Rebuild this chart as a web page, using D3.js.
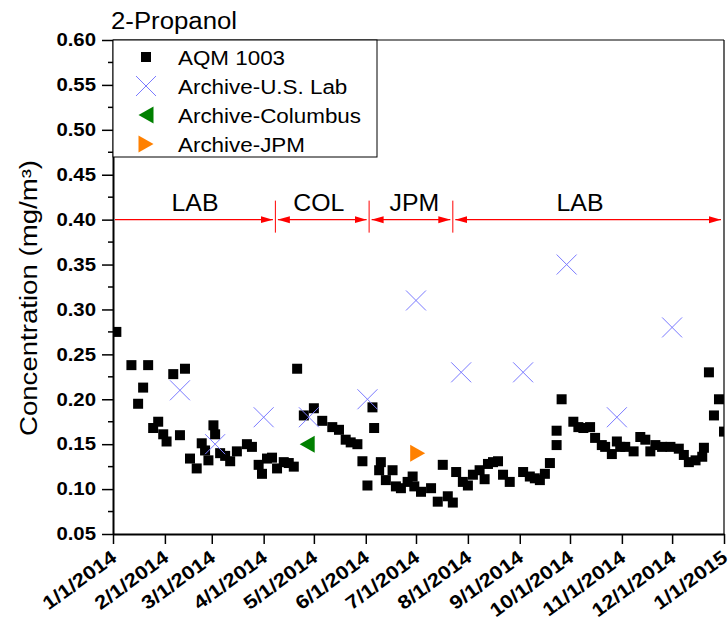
<!DOCTYPE html>
<html><head><meta charset="utf-8">
<script src="https://cdn.jsdelivr.net/npm/d3@7"></script>
<style>body{margin:0;background:#fff}svg{display:block;font-family:"Liberation Sans",Arial,sans-serif}</style>
</head><body><svg id="c" width="728" height="622"></svg>
<script>
// ---------- data ----------
const chartTitle = "2-Propanol";
const yTitle = "Concentration (mg/m\u00B3)";
const aqmDates = [
 "2014-01-03","2014-01-12","2014-01-16","2014-01-19","2014-01-22","2014-01-25","2014-01-28","2014-01-31",
 "2014-02-02","2014-02-06","2014-02-10","2014-02-13","2014-02-16","2014-02-20","2014-02-23","2014-02-25","2014-02-27",
 "2014-03-02","2014-03-03","2014-03-06","2014-03-09","2014-03-12","2014-03-16","2014-03-22","2014-03-25","2014-03-29","2014-03-31",
 "2014-04-03","2014-04-06","2014-04-09","2014-04-13","2014-04-16","2014-04-19","2014-04-21","2014-04-25",
 "2014-05-01","2014-05-06","2014-05-12","2014-05-16","2014-05-20","2014-05-23","2014-05-27","2014-05-30",
 "2014-06-02","2014-06-05","2014-06-06","2014-06-09","2014-06-10","2014-06-13","2014-06-17","2014-06-19","2014-06-22","2014-06-26","2014-06-29","2014-06-30",
 "2014-07-04","2014-07-10","2014-07-14","2014-07-17","2014-07-20","2014-07-23","2014-07-25","2014-07-29",
 "2014-08-01","2014-08-04","2014-08-08","2014-08-11","2014-08-13","2014-08-16","2014-08-19","2014-08-22","2014-08-26",
 "2014-09-03","2014-09-07","2014-09-10","2014-09-13","2014-09-16","2014-09-19","2014-09-23","2014-09-23","2014-09-26",
 "2014-10-03","2014-10-06","2014-10-09","2014-10-13","2014-10-16","2014-10-20","2014-10-22","2014-10-26","2014-10-29","2014-10-31",
 "2014-11-03","2014-11-08","2014-11-12","2014-11-15","2014-11-18","2014-11-21","2014-11-25","2014-11-30",
 "2014-12-05","2014-12-08","2014-12-11","2014-12-15","2014-12-19","2014-12-20","2014-12-23","2014-12-26","2014-12-29",
 "2015-01-01"];
const aqmValues = [
 0.275,0.238,0.195,0.213,0.238,0.168,0.175,0.161,
 0.153,0.228,0.160,0.234,0.134,0.123,0.151,0.143,0.132,
 0.171,0.161,0.140,0.137,0.131,0.142,0.150,0.147,0.127,0.117,
 0.134,0.135,0.123,0.130,0.129,0.125,0.234,0.182,
 0.190,0.176,0.169,0.166,0.155,0.152,0.150,0.131,
 0.104,0.191,0.168,0.121,0.130,0.110,0.121,0.103,0.101,0.108,0.114,0.103,
 0.097,0.101,0.086,0.127,0.092,0.085,0.119,0.108,
 0.104,0.116,0.121,0.111,0.128,0.130,0.131,0.116,0.108,
 0.119,0.114,0.112,0.110,0.117,0.129,0.149,0.165,0.200,
 0.175,0.169,0.168,0.169,0.157,0.149,0.147,0.139,0.153,0.147,
 0.147,0.142,0.158,0.155,0.142,0.149,0.147,0.147,
 0.145,0.138,0.130,0.132,0.136,0.146,0.230,0.182,0.200,
 0.164];
const labDates = ["2014-02-10","2014-03-03","2014-04-01","2014-04-28","2014-06-02","2014-07-01","2014-07-28","2014-09-03","2014-09-29","2014-10-29","2014-12-01"];
const labValues = [0.21,0.15,0.18,0.18,0.20,0.31,0.23,0.23,0.35,0.18,0.28];
const colDates = ["2014-04-27"];
const colValues = [0.15];
const jpmDates = ["2014-07-02"];
const jpmValues = [0.14];
const seriesNames = ["AQM 1003","Archive-U.S. Lab","Archive-Columbus","Archive-JPM"];
const yTicks = [0.05,0.10,0.15,0.20,0.25,0.30,0.35,0.40,0.45,0.50,0.55,0.60];
const xTickDates = ["2014-01-01","2014-02-01","2014-03-01","2014-04-01","2014-05-01","2014-06-01","2014-07-01","2014-08-01","2014-09-01","2014-10-01","2014-11-01","2014-12-01","2015-01-01"];
const xTickLabels = ["1/1/2014","2/1/2014","3/1/2014","4/1/2014","5/1/2014","6/1/2014","7/1/2014","8/1/2014","9/1/2014","10/1/2014","11/1/2014","12/1/2014","1/1/2015"];
const siteBounds = ["2014-01-01","2014-04-08","2014-06-03","2014-07-23","2015-01-01"];
const siteNames = ["LAB","COL","JPM","LAB"];
const siteLabelDates = ["2014-02-19","2014-05-04","2014-06-30","2014-10-07"];
const siteArrowValue = 0.40;

// ---------- drawing ----------
const parse = d3.timeParse("%Y-%m-%d");
const svg = d3.select("#c");
const L = 113, R = 724, T = 40, B = 534;
const x = d3.scaleTime().domain([parse("2014-01-01"), parse("2015-01-01")]).range([L, R]);
const y = d3.scaleLinear().domain([0.05, 0.60]).range([B, T]);

function stretch(sel, k){
  sel.each(function(){
    const w = this.getComputedTextLength();
    d3.select(this).attr("textLength", w*k).attr("lengthAdjust","spacingAndGlyphs");
  });
}

svg.append("defs").append("clipPath").attr("id","plotclip")
  .append("rect").attr("x",L).attr("y",T).attr("width",R-L).attr("height",B-T);

// title
svg.append("text").attr("x",111).attr("y",29).attr("font-size",23).text(chartTitle).call(stretch,1.12);

// frame top & right
svg.append("line").attr("x1",L).attr("x2",R).attr("y1",T).attr("y2",T).attr("stroke","#000").attr("stroke-width",1.2);
svg.append("line").attr("x1",R).attr("x2",R).attr("y1",T).attr("y2",B).attr("stroke","#000").attr("stroke-width",1.2);

// y axis
const yMinor = yTicks.slice(0,-1).map((d,i)=> (d+yTicks[i+1])/2);
const gy = svg.append("g").attr("transform",`translate(${L},0)`);
gy.call(d3.axisLeft(y).tickValues(yTicks).tickSize(11).tickSizeOuter(0).tickPadding(6).tickFormat(d3.format(".2f")));
gy.selectAll(".tick line").attr("stroke-width",1.5);
gy.select(".domain").attr("stroke-width",2);
gy.selectAll("text").attr("font-size",18).attr("font-weight","bold").attr("font-family",'"Liberation Sans",Arial,sans-serif').attr("fill","#000");
gy.selectAll("text").call(stretch,1.13);
gy.selectAll(".minor").data(yMinor).enter().append("line").attr("class","minor")
  .attr("x1",-5).attr("x2",0).attr("y1",d=>y(d)).attr("y2",d=>y(d)).attr("stroke","#000").attr("stroke-width",1.5);

// x axis
const xt = xTickDates.map(parse);
const gx = svg.append("g").attr("transform",`translate(0,${B})`);
gx.call(d3.axisBottom(x).tickValues(xt).tickSize(10).tickSizeOuter(0).tickFormat(""));
gx.selectAll(".tick line").attr("stroke-width",1.5);
gx.select(".domain").attr("stroke-width",2);
const xl = svg.append("g");
xl.selectAll("text").data(xt).enter().append("text")
  .attr("transform",d=>`translate(${x(d)+5},${B+26}) rotate(-36)`)
  .attr("text-anchor","end").attr("font-size",19).attr("font-weight","bold")
  .text((d,i)=>xTickLabels[i]).call(stretch,1.16);

// y title
svg.append("text").attr("transform","translate(37,298) rotate(-90)").attr("text-anchor","middle")
  .attr("font-size",23).text(yTitle).call(stretch,1.2);

// site annotations
const red = "#ff0000";
const defs = svg.select("defs");
defs.append("marker").attr("id","ah").attr("viewBox","0 -4 12 8").attr("refX",12).attr("refY",0)
  .attr("markerWidth",12).attr("markerHeight",8).attr("markerUnits","userSpaceOnUse").attr("orient","auto-start-reverse")
  .append("path").attr("d","M0,-3.5L12,0L0,3.5Z").attr("fill",red);
const ay = y(siteArrowValue);
const ann = svg.append("g");
siteBounds.slice(1,-1).forEach(d=>{
  ann.append("line").attr("x1",x(parse(d))).attr("x2",x(parse(d))).attr("y1",ay-19).attr("y2",ay+13)
    .attr("stroke",red).attr("stroke-width",1);
});
siteNames.forEach((name,i)=>{
  const x0 = x(parse(siteBounds[i])), x1 = x(parse(siteBounds[i+1]));
  const first = i===0;
  const ln = ann.append("line").attr("x1", first ? x0+2 : x0+2.5).attr("x2", i===siteNames.length-1 ? x1-3 : x1-2.5)
    .attr("y1",ay).attr("y2",ay).attr("stroke",red).attr("stroke-width",1.2).attr("marker-end","url(#ah)");
  if(!first) ln.attr("marker-start","url(#ah)");
  ann.append("text").attr("x",x(parse(siteLabelDates[i]))).attr("y",ay-9).attr("text-anchor","middle")
    .attr("font-size",23).text(name).call(stretch,1.08);
});

// data marks
const plot = svg.append("g").attr("clip-path","url(#plotclip)");
const aqm = aqmDates.map((d,i)=>({d:parse(d),v:aqmValues[i]}));
plot.selectAll("rect.aqm").data(aqm).enter().append("rect").attr("class","aqm")
  .attr("x",p=>x(p.d)-5).attr("y",p=>y(p.v)-5).attr("width",10).attr("height",10).attr("fill","#000");
const xPath = "M-10,-10L10,10M-10,10L10,-10";
const lab = labDates.map((d,i)=>({d:parse(d),v:labValues[i]}));
plot.selectAll("path.lab").data(lab).enter().append("path").attr("class","lab")
  .attr("transform",p=>`translate(${x(p.d)},${y(p.v)})`).attr("d",xPath)
  .attr("stroke","#7a7aff").attr("stroke-width",1).attr("fill","none");
const leftTri = "M-7.5,0L7.5,-8.5L7.5,8.5Z", rightTri = "M7.5,0L-7.5,-8.5L-7.5,8.5Z";
plot.selectAll("path.col").data(colDates.map((d,i)=>({d:parse(d),v:colValues[i]}))).enter().append("path")
  .attr("transform",p=>`translate(${x(p.d)},${y(p.v)})`).attr("d",leftTri).attr("fill","#008000");
plot.selectAll("path.jpm").data(jpmDates.map((d,i)=>({d:parse(d),v:jpmValues[i]}))).enter().append("path")
  .attr("transform",p=>`translate(${x(p.d)},${y(p.v)})`).attr("d",rightTri).attr("fill","#ff8000");

// legend
const lg = svg.append("g");
lg.append("rect").attr("x",L).attr("y",T).attr("width",264).attr("height",117).attr("fill","#fff").attr("stroke","#000").attr("stroke-width",1);
const rowY = [57,86,115,144];
lg.append("rect").attr("x",141).attr("y",rowY[0]-5).attr("width",10).attr("height",10).attr("fill","#000");
lg.append("path").attr("transform",`translate(146,${rowY[1]})`).attr("d",xPath).attr("stroke","#7a7aff").attr("fill","none");
lg.append("path").attr("transform",`translate(146,${rowY[2]})`).attr("d",leftTri).attr("fill","#008000");
lg.append("path").attr("transform",`translate(146,${rowY[3]})`).attr("d",rightTri).attr("fill","#ff8000");
seriesNames.forEach((n,i)=>{
  lg.append("text").attr("x",178).attr("y",rowY[i]+8).attr("font-size",20).text(n).call(stretch,1.12);
});
</script></body></html>
